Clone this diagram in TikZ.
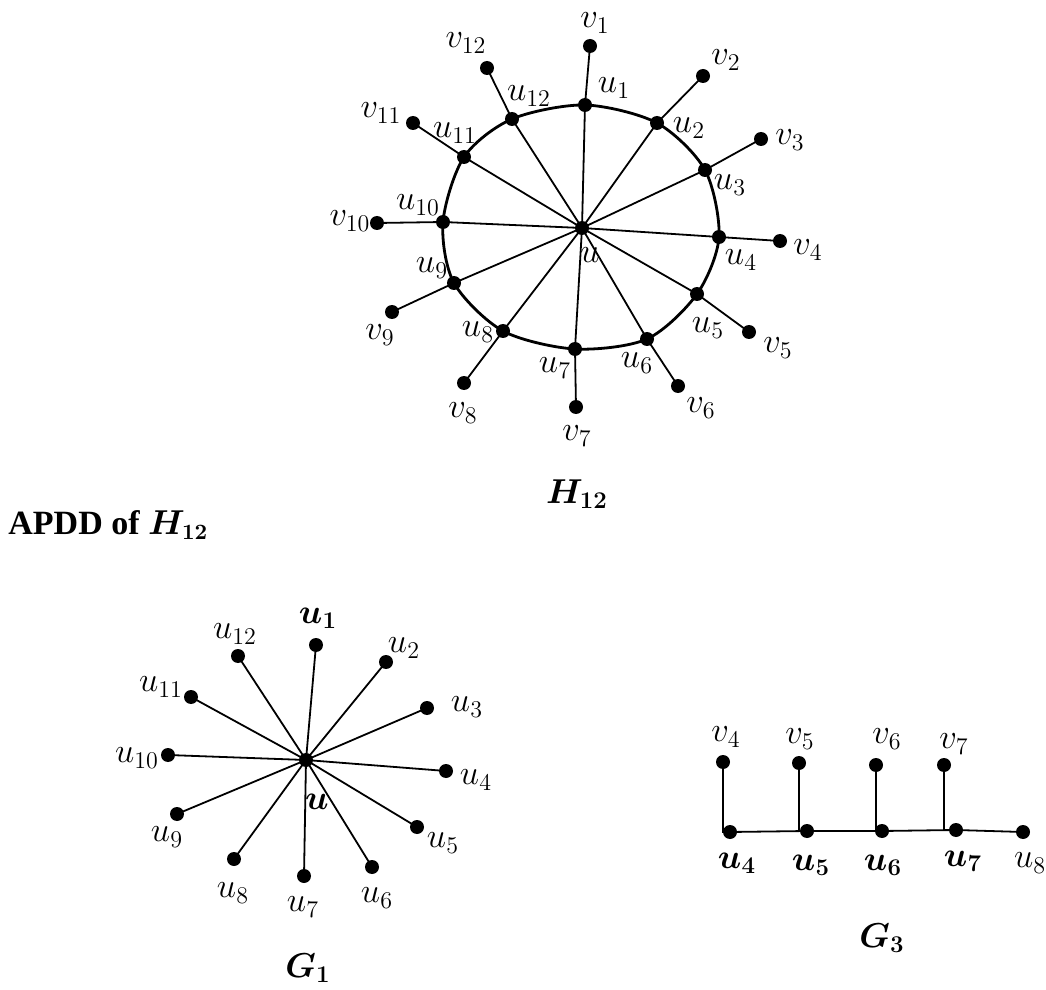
\documentclass[tikz,border=0pt]{standalone}
\usepackage{fontspec}
\usepackage{bm}
\newfontfamily\headfont{Liberation Serif}
\begin{document}
\begin{tikzpicture}[x=0.5pt,y=-0.5pt,
  dot/.style={circle,fill=black,inner sep=0pt,minimum size=7pt},
  edge/.style={line width=0.9pt},
  ring/.style={line width=1.4pt},
  lbl/.style={inner sep=0pt,font=\fontsize{17}{19}\selectfont},
  ttl/.style={inner sep=0pt,font=\fontsize{17}{19}\selectfont}]
\useasboundingbox (0,0) rectangle (1046,990);

% ---------- H_12 : wheel with pendant vertices ----------
\node[dot] (c) at (582,228) {};
\node[dot] (u1) at (585,105) {};
\node[dot] (u2) at (657,123) {};
\node[dot] (u3) at (705,170) {};
\node[dot] (u4) at (719,237) {};
\node[dot] (u5) at (697,294) {};
\node[dot] (u6) at (647,339) {};
\node[dot] (u7) at (575,349) {};
\node[dot] (u8) at (503,331) {};
\node[dot] (u9) at (454,283) {};
\node[dot] (u10) at (443,222) {};
\node[dot] (u11) at (464,157) {};
\node[dot] (u12) at (512,119) {};
\node[dot] (v1) at (590,46) {};
\node[dot] (v2) at (703,76) {};
\node[dot] (v3) at (761,139) {};
\node[dot] (v4) at (780,241) {};
\node[dot] (v5) at (749,332) {};
\node[dot] (v6) at (678,386) {};
\node[dot] (v7) at (576,407) {};
\node[dot] (v8) at (464,383) {};
\node[dot] (v9) at (392,312) {};
\node[dot] (v10) at (377,223) {};
\node[dot] (v11) at (413,123) {};
\node[dot] (v12) at (487,68) {};

\draw[ring] plot[smooth cycle] coordinates {(u1.center) (u2.center) (u3.center) (u4.center) (u5.center) (u6.center) (u7.center) (u8.center) (u9.center) (u10.center) (u11.center) (u12.center)};
\foreach \i in {1,...,12} {
  \draw[edge] (c.center) -- (u\i.center);
  \draw[edge] (u\i.center) -- (v\i.center);
}

\node[lbl] (lv1) at (595,23) {$v_1$};
\node[lbl] (lv2) at (726,60) {$v_2$};
\node[lbl] (lv3) at (790,140) {$v_3$};
\node[lbl] (lv4) at (808,250) {$v_4$};
\node[lbl] (lv5) at (778,348) {$v_5$};
\node[lbl] (lv6) at (701,408) {$v_6$};
\node[lbl] (lv7) at (577,436) {$v_7$};
\node[lbl] (lv8) at (463,413) {$v_8$};
\node[lbl] (lv9) at (380,335) {$v_9$};
\node[lbl] (lv10) at (350,221) {$v_{10}$};
\node[lbl] (lv11) at (381,113) {$v_{11}$};
\node[lbl] (lv12) at (466,43) {$v_{12}$};
\node[lbl] (lu1) at (614,88) {$u_1$};
\node[lbl] (lu2) at (689,128) {$u_2$};
\node[lbl] (lu3) at (730,185) {$u_3$};
\node[lbl] (lu4) at (741,260) {$u_4$};
\node[lbl] (lu5) at (708,328) {$u_5$};
\node[lbl] (lu6) at (637,363) {$u_6$};
\node[lbl] (lu7) at (555,368) {$u_7$};
\node[lbl] (lu8) at (478,332) {$u_8$};
\node[lbl] (lu9) at (432,268) {$u_9$};
\node[lbl] (lu10) at (418,205) {$u_{10}$};
\node[lbl] (lu11) at (455,133) {$u_{11}$};
\node[lbl] (lu12) at (529,96) {$u_{12}$};
\node[lbl] (lc) at (590,255) {$u$};
\node[ttl] (tH) at (577,494) {$\bm{H_{12}}$};

% ---------- heading ----------
\node[inner sep=0pt,anchor=base west,font=\headfont\fontsize{17}{19}\selectfont\bfseries] (head) at (8,534) {APDD of \fontsize{16}{18}\selectfont$\bm{H_{12}}$};

% ---------- G_1 : star ----------
\node[dot] (g) at (306,760) {};
\node[dot] (g1) at (316,645) {};
\node[dot] (g2) at (386,662) {};
\node[dot] (g3) at (427,708) {};
\node[dot] (g4) at (446,771) {};
\node[dot] (g5) at (417,827) {};
\node[dot] (g6) at (372,867) {};
\node[dot] (g7) at (304,876) {};
\node[dot] (g8) at (234,859) {};
\node[dot] (g9) at (177,814) {};
\node[dot] (g10) at (168,755) {};
\node[dot] (g11) at (191,697) {};
\node[dot] (g12) at (238,656) {};
\foreach \i in {1,...,12} \draw[edge] (g.center) -- (g\i.center);

\node[lbl] (lg1) at (318,618) {$\bm{u_1}$};
\node[lbl] (lg2) at (404,648) {$u_2$};
\node[lbl] (lg3) at (467,707) {$u_3$};
\node[lbl] (lg4) at (476,780) {$u_4$};
\node[lbl] (lg5) at (443,843) {$u_5$};
\node[lbl] (lg6) at (377,898) {$u_6$};
\node[lbl] (lg7) at (303,907) {$u_7$};
\node[lbl] (lg8) at (233,893) {$u_8$};
\node[lbl] (lg9) at (167,837) {$u_9$};
\node[lbl] (lg10) at (137,758) {$u_{10}$};
\node[lbl] (lg11) at (161,687) {$u_{11}$};
\node[lbl] (lg12) at (235,634) {$u_{12}$};
\node[lbl] (lg) at (317,802) {$\bm{u}$};
\node[ttl] (tG1) at (308,968) {$\bm{G_1}$};

% ---------- G_3 : caterpillar ----------
\node[dot] (p4) at (730,832) {};
\node[dot] (p5) at (807,831) {};
\node[dot] (p6) at (882,831) {};
\node[dot] (p7) at (956,830) {};
\node[dot] (p8) at (1023,832) {};
\node[dot] (q4) at (723,762) {};
\node[dot] (q5) at (799,763) {};
\node[dot] (q6) at (876,765) {};
\node[dot] (q7) at (944,765) {};
\draw[edge] (p4.center) -- (p5.center) -- (p6.center) -- (p7.center) -- (p8.center);
\foreach \i in {4,...,7} \draw[edge] (q\i.center) |- (p\i.center);

\node[lbl] (lq4) at (726,737) {$v_4$};
\node[lbl] (lq5) at (800,739) {$v_5$};
\node[lbl] (lq6) at (887,739) {$v_6$};
\node[lbl] (lq7) at (954,744) {$v_7$};
\node[lbl] (lp4) at (737,863) {$\bm{u_4}$};
\node[lbl] (lp5) at (811,865) {$\bm{u_5}$};
\node[lbl] (lp6) at (883,865) {$\bm{u_6}$};
\node[lbl] (lp7) at (963,861) {$\bm{u_7}$};
\node[lbl] (lp8) at (1030,863) {$u_8$};
\node[ttl] (tG3) at (882,938) {$\bm{G_3}$};
\end{tikzpicture}
\end{document}
